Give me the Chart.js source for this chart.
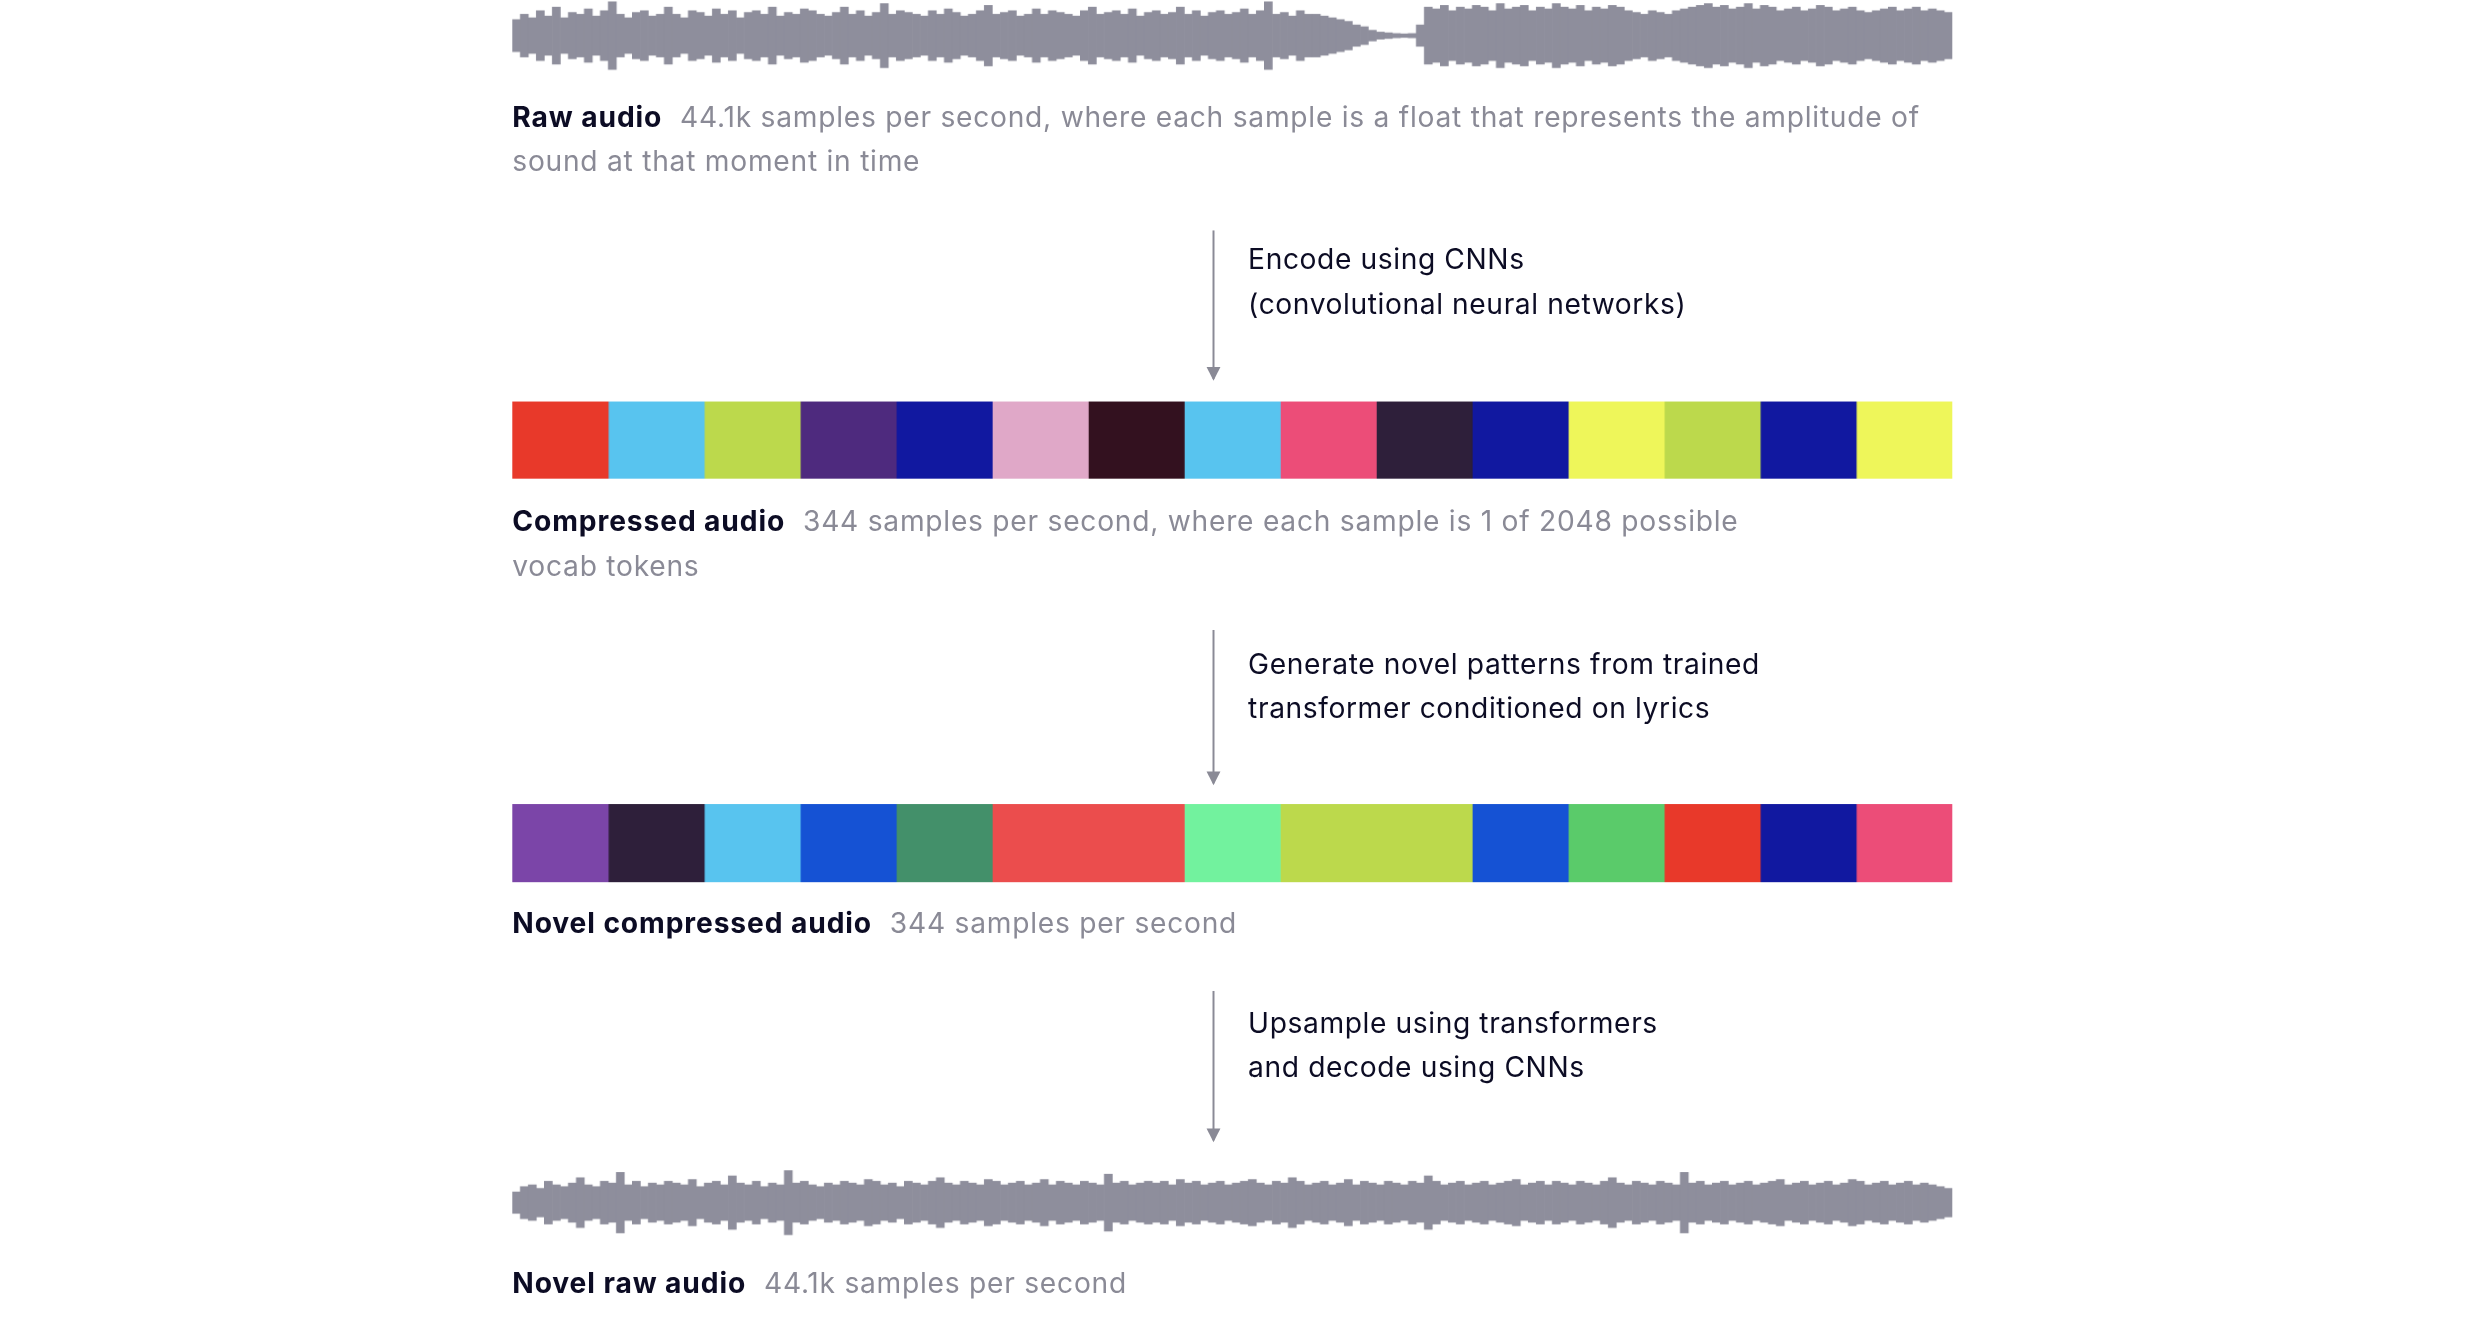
<!DOCTYPE html>
<html>
<head>
<meta charset="utf-8">
<script src="https://cdn.jsdelivr.net/npm/chart.js@4"></script>
<style>
  body { margin: 0; background: #fff; width: 2486px; height: 1322px; position: relative; overflow: hidden;
         font-family: Inter, "Noto Sans", sans-serif; }
  #page { position: absolute; left: 0; top: 0; width: 2486px; height: 1340px; transform: scale(0.989); transform-origin: 0 0; }
  .box { position: absolute; left: 518px; width: 1456px; }
  .txt { position: absolute; left: 518px; width: 1456px; font-size: 28.5px; line-height: 45px; color: #8a8a96; letter-spacing: 0.75px; }
  .txt b { color: #0c0c24; font-weight: 700; margin-right: 18px; letter-spacing: 0.9px; }
  .note { position: absolute; left: 1262px; font-size: 28.5px; line-height: 45px; color: #0c0c24; letter-spacing: 0.6px; }
  .arrow { position: absolute; left: 1226px; width: 2px; background: #8a8a96; }
  .arrow:after { content: ""; position: absolute; left: -6px; bottom: -2px; border-left: 7px solid transparent;
                 border-right: 7px solid transparent; border-top: 14px solid #8a8a96; }
</style>
</head>
<body>
<div id="page">
<div class="box" style="top:0px;height:72px"><canvas id="wave1"></canvas></div>
<div class="txt" style="top:95px"><b>Raw audio</b>44.1k samples per second, where each sample is a float that represents the amplitude of sound at that moment in time</div>
<div class="arrow" style="top:233px;height:150px"></div>
<div class="note" style="top:239px">Encode using CNNs<br>(convolutional neural networks)</div>
<div class="box" style="top:406px;height:78px"><canvas id="tokens1"></canvas></div>
<div class="txt" style="top:504px;width:1330px"><b>Compressed audio</b>344 samples per second, where each sample is 1 of 2048 possible vocab tokens</div>
<div class="arrow" style="top:637px;height:155px"></div>
<div class="note" style="top:648px">Generate novel patterns from trained<br>transformer conditioned on lyrics</div>
<div class="box" style="top:813px;height:79px"><canvas id="tokens2"></canvas></div>
<div class="txt" style="top:910px"><b>Novel compressed audio</b>344 samples per second</div>
<div class="arrow" style="top:1002px;height:151px"></div>
<div class="note" style="top:1011px">Upsample using transformers<br>and decode using CNNs</div>
<div class="box" style="top:1180px;height:72px"><canvas id="wave2"></canvas></div>
<div class="txt" style="top:1274px"><b>Novel raw audio</b>44.1k samples per second</div>
</div>

<script>
// envelope of the waveforms (half-height, 0..1)
const rawAmp = [
  0.45,0.6,0.5,0.7,0.55,0.8,0.5,0.65,0.6,0.75, 0.55,0.7,0.95,0.6,0.5,0.65,0.7,0.55,0.6,0.8,
  0.6,0.5,0.7,0.65,0.55,0.75,0.6,0.7,0.5,0.65, 0.7,0.6,0.8,0.55,0.65,0.6,0.75,0.7,0.6,0.55,
  0.65,0.8,0.6,0.7,0.55,0.65,0.9,0.6,0.7,0.65, 0.6,0.55,0.7,0.6,0.75,0.65,0.55,0.6,0.7,0.85,
  0.6,0.65,0.7,0.55,0.6,0.75,0.6,0.7,0.65,0.6, 0.55,0.7,0.8,0.6,0.65,0.7,0.6,0.75,0.55,0.65,
  0.7,0.6,0.65,0.8,0.6,0.7,0.55,0.65,0.7,0.6, 0.65,0.75,0.6,0.7,0.95,0.6,0.65,0.55,0.7,0.6,
  0.6,0.55,0.5,0.45,0.4,0.3,0.25,0.15,0.1,0.08, 0.06,0.05,0.06,0.3,0.8,0.75,0.85,0.7,0.8,0.75,
  0.85,0.8,0.7,0.9,0.75,0.8,0.85,0.7,0.8,0.75, 0.9,0.8,0.75,0.85,0.7,0.8,0.75,0.85,0.8,0.7,
  0.65,0.6,0.7,0.65,0.6,0.7,0.75,0.8,0.85,0.9, 0.8,0.85,0.75,0.8,0.9,0.75,0.85,0.8,0.7,0.75,
  0.8,0.7,0.75,0.85,0.8,0.7,0.75,0.8,0.7,0.65, 0.7,0.75,0.8,0.7,0.75,0.8,0.7,0.75,0.7,0.65
];
const novelAmp = [
  0.3,0.45,0.5,0.4,0.6,0.5,0.45,0.55,0.7,0.5, 0.45,0.6,0.55,0.85,0.5,0.6,0.45,0.55,0.5,0.6,
  0.55,0.5,0.65,0.45,0.55,0.6,0.5,0.75,0.55,0.5, 0.6,0.45,0.55,0.5,0.9,0.55,0.6,0.5,0.45,0.55,
  0.5,0.6,0.55,0.5,0.65,0.6,0.5,0.55,0.45,0.6, 0.55,0.5,0.6,0.7,0.55,0.5,0.6,0.55,0.5,0.65,
  0.6,0.5,0.55,0.6,0.5,0.55,0.65,0.5,0.6,0.55, 0.5,0.6,0.55,0.5,0.8,0.55,0.6,0.5,0.55,0.6,
  0.55,0.6,0.5,0.65,0.55,0.6,0.5,0.55,0.6,0.5, 0.55,0.6,0.65,0.55,0.5,0.6,0.55,0.7,0.6,0.5,
  0.55,0.6,0.5,0.55,0.65,0.5,0.6,0.55,0.5,0.6, 0.55,0.5,0.6,0.55,0.75,0.6,0.5,0.55,0.6,0.5,
  0.55,0.6,0.5,0.55,0.6,0.65,0.5,0.55,0.6,0.5, 0.6,0.55,0.5,0.6,0.55,0.5,0.6,0.7,0.55,0.5,
  0.6,0.55,0.5,0.6,0.55,0.5,0.85,0.55,0.6,0.5, 0.55,0.6,0.5,0.55,0.6,0.5,0.55,0.6,0.65,0.5,
  0.55,0.6,0.5,0.55,0.6,0.5,0.55,0.65,0.6,0.5, 0.55,0.6,0.5,0.55,0.6,0.5,0.55,0.5,0.45,0.4
];

// token strips: colour of each token and how many slots it spans
const tokens1Colors = ['#e8392a','#58c4ef','#bcd94c','#4e2a7e','#1118a0','#e0a8c8','#33111f','#58c4ef',
                       '#ec4d78','#2e1f3a','#1118a0','#eef65a','#bcd94c','#1118a0','#eef65a'];
const tokens1Spans  = [1,1,1,1,1,1,1,1,1,1,1,1,1,1,1];
const tokens2Colors = ['#7b45a8','#2e1f3a','#58c4ef','#1552d4','#43906a','#eb4d4d','#72f29e','#bcd94c',
                       '#1552d4','#5acb6a','#e8392a','#1118a0','#ec4d78'];
const tokens2Spans  = [1,1,1,1,1,2,1,2,1,1,1,1,1];

const WAVE_GREY = '#8e8e9c';

function baseOptions() {
    return {
        responsive: true,
        maintainAspectRatio: false,
        animation: false,
        events: [],
        layout: { padding: 0 },
        plugins: { legend: { display: false }, tooltip: { enabled: false } }
    };
}

function drawWave(id, amps) {
    const opts = baseOptions();
    opts.scales = {
        x: { display: false, grid: { display: false } },
        y: { display: false, min: -1, max: 1 }
    };
    new Chart(document.getElementById(id), {
        type: 'bar',
        data: {
            labels: amps.map((_, i) => i),
            datasets: [{
                data: amps.map(a => [-a, a]),
                backgroundColor: WAVE_GREY,
                borderWidth: 0,
                barPercentage: 1,
                categoryPercentage: 1
            }]
        },
        options: opts
    });
}

function drawTokens(id, colors, spans) {
    const opts = baseOptions();
    opts.indexAxis = 'y';
    opts.scales = {
        x: { display: false, stacked: true, min: 0, max: 15 },
        y: { display: false, stacked: true }
    };
    new Chart(document.getElementById(id), {
        type: 'bar',
        data: {
            labels: ['tokens'],
            datasets: colors.map((c, i) => ({
                data: [spans[i]],
                backgroundColor: c,
                borderWidth: 0,
                barPercentage: 1,
                categoryPercentage: 1
            }))
        },
        options: opts
    });
}

drawWave('wave1', rawAmp);
drawTokens('tokens1', tokens1Colors, tokens1Spans);
drawTokens('tokens2', tokens2Colors, tokens2Spans);
drawWave('wave2', novelAmp);
</script>
</body>
</html>
